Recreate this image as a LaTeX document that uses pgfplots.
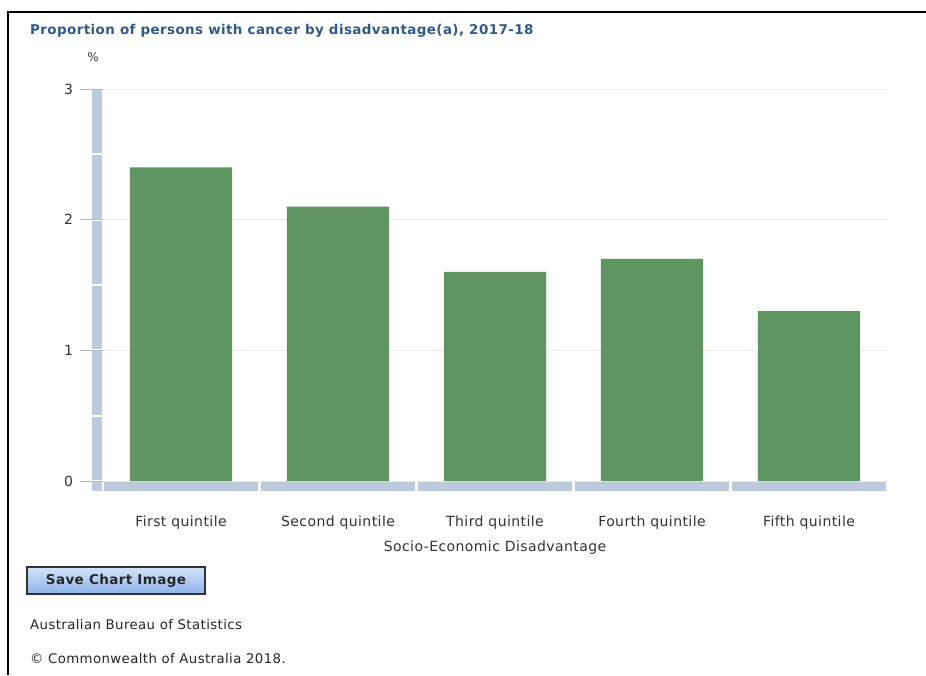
\documentclass[border=0pt]{standalone}
\usepackage{fontspec}
\setmainfont{DejaVu Sans}[LetterSpace=3]
\usepackage{pgfplots}
\pgfplotsset{compat=1.18}
\definecolor{bargreen}{HTML}{5E9560}
\definecolor{axisbar}{HTML}{BCCADC}
\definecolor{titleblue}{HTML}{2E5B8C}
\definecolor{txt}{HTML}{333333}
\definecolor{btntop}{HTML}{D3E3FA}
\definecolor{btnbot}{HTML}{8DB3EA}
\begin{document}
\begin{tikzpicture}[x=1pt,y=1pt]
\path[use as bounding box, fill=white] (0,0) rectangle (926,675);
% frame (top and left)
\draw[line width=2.2pt, black] (8,0) -- (8,663) -- (926,663);
% title
\node[anchor=base west, inner sep=0, text=titleblue, font=\fontsize{13.45}{15}\selectfont\bfseries] at (30,640) {Proportion of persons with cancer by disadvantage(a), 2017-18};
\node[anchor=base, inner sep=0, text=txt, font=\fontsize{12}{14}\selectfont] at (93,613) {\%};
\begin{axis}[
  at={(102.5pt,194pt)}, anchor=south west,
  scale only axis, width=785pt, height=392pt,
  xmin=-0.5, xmax=4.5, ymin=0, ymax=3,
  axis line style={draw=none},
  xtick={0,1,2,3,4},
  xticklabels={First quintile,Second quintile,Third quintile,Fourth quintile,Fifth quintile},
  x tick style={draw=none},
  ytick={0,1,2,3}, ytick pos=left,
  y tick style={draw=gray!55, line width=0.8pt},
  tick align=outside, major tick length=22pt,
  ymajorgrids, grid style={draw=gray!18, line width=0.8pt},
  /pgf/number format/assume math mode=true,
  ticklabel style={text=txt, font=\fontsize{14}{16}\selectfont},
  xticklabel style={yshift=-9pt},
  yticklabel style={xshift=-4pt},
  xlabel={Socio-Economic Disadvantage},
  xlabel style={text=txt, font=\fontsize{14}{16}\selectfont, yshift=-5pt},
  clip=false,
]
\addplot[ybar, bar width=0.65, fill=bargreen, draw=none] coordinates {(0,2.4) (1,2.1) (2,1.6) (3,1.7) (4,1.3)};
\end{axis}
% decorative axis bars
\begin{scope}[shift={(102.5,194)}]
  \def\u{130.667}
  \foreach \k in {0,...,5}{
    \fill[axisbar] (-10.5,{\k*0.5*\u+1}) rectangle (-0.5,{(\k+1)*0.5*\u-1});
  }
  \fill[axisbar] (-10.5,-10) rectangle (-0.5,-1);
  \foreach \k in {0,...,4}{
    \fill[axisbar] ({\k*157+1.5},-10) rectangle ({(\k+1)*157-1.5},-1);
  }
\end{scope}
% button
\shade[top color=btntop, bottom color=btnbot, draw=black!80, line width=1.3pt] (27,81) rectangle (205,108);
\node[anchor=center, text=black!85, font=\fontsize{13.5}{15}\selectfont\bfseries] at (116,94.5) {Save Chart Image};
% footer
\node[anchor=base west, inner sep=0, text=black!85, font=\fontsize{13.3}{15}\selectfont] at (30,46) {Australian Bureau of Statistics};
\node[anchor=base west, inner sep=0, text=black!85, font=\fontsize{13.3}{15}\selectfont] at (30,12) {© Commonwealth of Australia 2018.};
\end{tikzpicture}
\end{document}
